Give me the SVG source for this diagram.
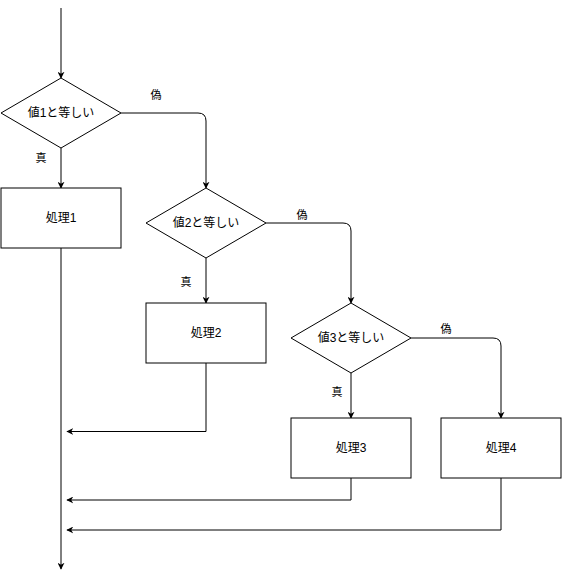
<svg xmlns="http://www.w3.org/2000/svg" width="563" height="580" viewBox="0 0 563 580">
<defs>
<marker id="arr" viewBox="0 0 10 10" refX="9" refY="5" markerWidth="7" markerHeight="7" markerUnits="userSpaceOnUse" orient="auto">
<path d="M0,0 L10,5 L0,10 L3,5 Z" fill="#000"/>
</marker>
</defs>
<style>
.shape{fill:#fff;stroke:#000;stroke-width:1}
.edge{fill:none;stroke:#000;stroke-width:1;marker-end:url(#arr)}
.t{font-family:"Liberation Sans","Noto Sans CJK JP",sans-serif;font-size:12px;fill:#000;text-anchor:middle;dominant-baseline:central}
.l{font-family:"Liberation Sans","Noto Sans CJK JP",sans-serif;font-size:11px;fill:#000;text-anchor:middle;dominant-baseline:central}
</style>
<rect width="563" height="580" fill="#fff"/>
<g id="connectors">
<path class="edge" d="M61,8 L61,78"/>
<path class="edge" d="M61,148 L61,188"/>
<path class="edge" d="M121,113 L198,113 Q206,113 206,121 L206,188"/>
<path class="edge" d="M206,258 L206,303"/>
<path class="edge" d="M266,223 L343,223 Q351,223 351,231 L351,303"/>
<path class="edge" d="M351,373 L351,418"/>
<path class="edge" d="M411,338 L493,338 Q501,338 501,346 L501,418"/>
<path class="edge" d="M61,248 L61,569"/>
<path class="edge" d="M206,363 L206,431.5 L67,431.5"/>
<path class="edge" d="M351,478 L351,500 L67,500"/>
<path class="edge" d="M501,478 L501,530 L67,530"/>
<text class="l" x="156" y="95">偽</text>
<text class="l" x="41" y="158">真</text>
<text class="l" x="302" y="215">偽</text>
<text class="l" x="186" y="282">真</text>
<text class="l" x="446" y="329">偽</text>
<text class="l" x="337" y="392">真</text>
</g>
<g id="d1"><path class="shape" d="M61,78 L121,113 L61,148 L1,113 Z"/><text class="t" x="61" y="113">値1と等しい</text></g>
<g id="p1"><rect class="shape" x="1" y="188" width="120" height="60"/><text class="t" x="61" y="218">処理1</text></g>
<g id="d2"><path class="shape" d="M206,188 L266,223 L206,258 L146,223 Z"/><text class="t" x="206" y="223">値2と等しい</text></g>
<g id="p2"><rect class="shape" x="146" y="303" width="120" height="60"/><text class="t" x="206" y="333">処理2</text></g>
<g id="d3"><path class="shape" d="M351,303 L411,338 L351,373 L291,338 Z"/><text class="t" x="351" y="338">値3と等しい</text></g>
<g id="p3"><rect class="shape" x="291" y="418" width="120" height="60"/><text class="t" x="351" y="448">処理3</text></g>
<g id="p4"><rect class="shape" x="441" y="418" width="120" height="60"/><text class="t" x="501" y="448">処理4</text></g>
</svg>
